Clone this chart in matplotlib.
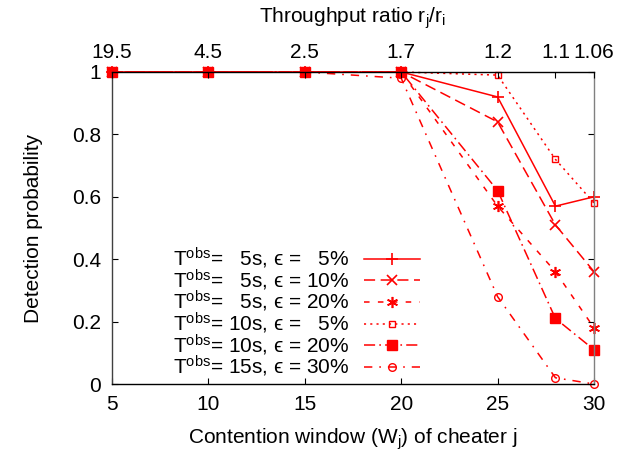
import matplotlib
matplotlib.use("Agg")
import matplotlib.pyplot as plt

plt.rcParams['font.family'] = ['Liberation Sans', 'DejaVu Sans']
plt.rcParams['mathtext.fontset'] = 'custom'
plt.rcParams['mathtext.rm'] = 'Liberation Sans'
plt.rcParams['mathtext.it'] = 'Liberation Sans:italic'
plt.rcParams['lines.scale_dashes'] = False

# contention window of the cheater and matching throughput ratio
cw = [5, 10, 15, 20, 25, 28, 30]
ratio_labels = ['19.5', '4.5', '2.5', '1.7', '1.2', '1.1', '1.06']

p_5s_5 = [1, 1, 1, 1, 0.92, 0.57, 0.60]
p_5s_10 = [1, 1, 1, 1, 0.84, 0.51, 0.36]
p_5s_20 = [1, 1, 1, 1, 0.57, 0.36, 0.18]
p_10s_5 = [1, 1, 1, 1, 0.99, 0.72, 0.58]
p_10s_20 = [1, 1, 1, 1, 0.62, 0.21, 0.11]
p_15s_30 = [1, 1, 1, 0.98, 0.28, 0.02, 0.0]

labels = [
    'T$^{\\mathrm{obs}}$=   5s, \u03f5 =   5%',
    'T$^{\\mathrm{obs}}$=   5s, \u03f5 = 10%',
    'T$^{\\mathrm{obs}}$=   5s, \u03f5 = 20%',
    'T$^{\\mathrm{obs}}$= 10s, \u03f5 =   5%',
    'T$^{\\mathrm{obs}}$= 10s, \u03f5 = 20%',
    'T$^{\\mathrm{obs}}$= 15s, \u03f5 = 30%',
]

red = '#ff0000'
fs = 15
styles = [
    dict(ls='-', marker='+', ms=9, mew=1.2, mfc='none'),
    dict(ls=(0, (8, 4)), marker='x', ms=6.5, mew=1.2, mfc='none'),
    dict(ls=(0, (4, 6)), marker=(6, 2, 0), ms=8, mew=1.2, mfc='none'),
    dict(ls=(0, (1.5, 3)), marker='s', ms=5, mew=1.0, mfc='none'),
    dict(ls=(0, (8, 3, 1.2, 3)), marker='s', ms=6.5, mew=1.0, mfc=red),
    dict(ls=(0, (6, 5, 1.2, 5)), marker='o', ms=5.5, mew=1.0, mfc='none'),
]
series = [p_5s_5, p_5s_10, p_5s_20, p_10s_5, p_10s_20, p_15s_30]

fig = plt.figure(figsize=(6.17, 4.53), dpi=100)
ax = fig.add_axes([0.1815, 0.1523, 0.7812, 0.6888])

for y, lab, st in zip(series, labels, styles):
    ax.plot(cw, y, color=red, lw=1.1, mec=red, label=lab, clip_on=False, **st)

ax.set_xlim(5, 30)
ax.set_ylim(0, 1)
ax.set_xticks([5, 10, 15, 20, 25, 30])
ax.set_yticks([0, 0.2, 0.4, 0.6, 0.8, 1])
ax.set_yticklabels(['0', '0.2', '0.4', '0.6', '0.8', '1'])
ax.tick_params(direction='in', length=4, width=0.8, labelsize=fs, pad=8,
               right=True, colors='black')
ax.set_xlabel('Contention window (W$_\\mathrm{j}$) of cheater j', fontsize=fs, labelpad=9)
ax.set_ylabel('Detection probability', fontsize=fs, labelpad=21)

for side, col in [('left', '#404040'), ('right', '#808080'),
                  ('bottom', 'black'), ('top', 'black')]:
    ax.spines[side].set_color(col)
    ax.spines[side].set_linewidth(1.0)

top = ax.twiny()
top.set_xlim(ax.get_xlim())
top.set_xticks(cw)
top.set_xticklabels(ratio_labels)
top.tick_params(direction='in', length=4, width=0.8, labelsize=fs, pad=7)
top.set_xlabel('Throughput ratio r$_\\mathrm{j}$/r$_\\mathrm{i}$', fontsize=fs, labelpad=15)
for s in top.spines.values():
    s.set_visible(False)

ax.legend(loc='lower right', bbox_to_anchor=(0.639, 0.015), frameon=False,
          markerfirst=False, fontsize=fs, handlelength=2.7, handletextpad=0.7,
          labelspacing=-0.17, borderpad=0, borderaxespad=0)

fig.savefig('out.png', dpi=100)
